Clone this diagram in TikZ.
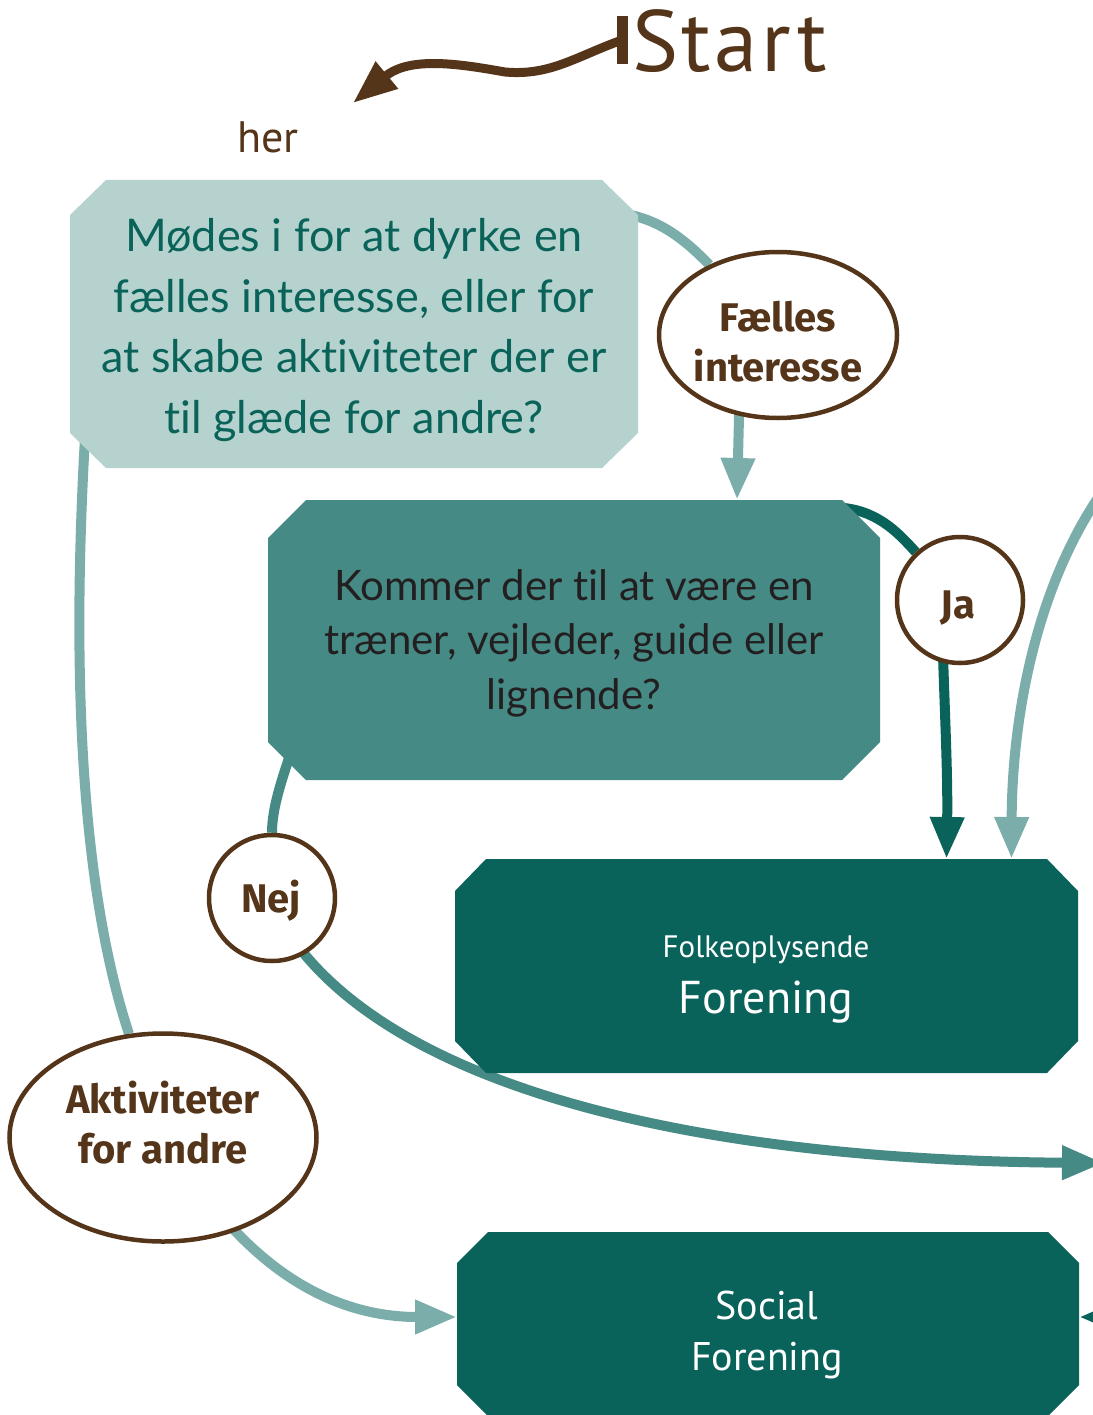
\documentclass[tikz,border=0pt]{standalone}
\usepackage{fontspec}
\setmainfont{Lato}[Ligatures=NoCommon]
\newfontfamily\myr{PT Sans}
\newfontfamily\myrs{PT Sans}[LetterSpace=4]
\newfontfamily\labf{Fira Sans}
\usetikzlibrary{arrows.meta,calc,shapes.geometric}
\pgfdeclarelayer{base}
\pgfdeclarelayer{bg}
\pgfdeclarelayer{mid}
\pgfsetlayers{base,bg,mid,main}
\definecolor{brn}{HTML}{55351A}
\definecolor{lbox}{HTML}{B5D2CF}
\definecolor{mbox}{HTML}{458A84}
\definecolor{dbox}{HTML}{0A635B}
\definecolor{lline}{HTML}{7BAEAA}
\definecolor{tteal}{HTML}{0A6359}
\definecolor{tdark}{HTML}{231F20}
\newcommand\octofill[4]{%
\begin{pgfonlayer}{mid}
\fill[#4] ($(#1.north west)+(#2,0)$) -- ($(#1.north east)+(-#2,0)$) -- ($(#1.north east)+(0,#3)$) -- ($(#1.south east)+(0,-#3)$) -- ($(#1.south east)+(-#2,0)$) -- ($(#1.south west)+(#2,0)$) -- ($(#1.south west)+(0,-#3)$) -- ($(#1.north west)+(0,#3)$) -- cycle;
\end{pgfonlayer}}
\begin{document}
\begin{tikzpicture}[x=1pt,y=-1pt,
  shp/.style={inner sep=0pt, outer sep=0pt},
  lab/.style={ellipse, draw=brn, line width=4.5pt, fill=white, inner sep=0pt},
  circlab/.style={circle, draw=brn, line width=4.5pt, fill=white, inner sep=0pt, minimum size=126pt},
  labt/.style={font=\labf\bfseries\fontsize{40}{50}\selectfont, text=brn, align=center, inner sep=0pt},
  conn/.style={line width=10pt},
  tip/.style={-{Triangle[width=32pt,length=42pt]}}]
\useasboundingbox (0,0) rectangle (1092,1415);
\begin{pgfonlayer}{base}
\fill[white] (0,0) rectangle (1092,1415);
\end{pgfonlayer}

% Start
\node[anchor=base west, inner sep=0pt, text=brn, font=\myrs\fontsize{87}{87}\selectfont] (start) at (632,72) {Start};
\node[anchor=base west, inner sep=0pt, text=brn, font=\myr\fontsize{44}{44}\selectfont] (her) at (237,153) {her};
\coordinate (sbar) at (622,40);
\coordinate (hertip) at (353,103);
\draw[brn, line width=11pt] ($(sbar)+(0,-24)$) -- ($(sbar)+(0,24)$);
\draw[brn, line width=9pt, -{Triangle[width=33pt,length=44pt]}] (sbar) .. controls (575,57) and (550,76) .. (505,72) .. controls (460,64) and (410,56) .. (hertip);

% boxes
\node[shp, minimum width=568pt, minimum height=288pt] (q1) at (354,324) {};
\octofill{q1}{36}{35}{lbox}
\node[font=\fontsize{45}{60.5}\selectfont, text=tteal, align=center, inner sep=0pt] (q1t) at (354,330) {Mødes i for at dyrke en\\fælles interesse, eller for\\at skabe aktiviteter der er\\til glæde for andre?};

\node[shp, minimum width=612pt, minimum height=280pt] (q2) at (574,640) {};
\octofill{q2}{38}{38}{mbox}
\node[font=\fontsize{42}{54.5}\selectfont, text=tdark, align=center, inner sep=0pt] (q2t) at (574,643) {Kommer der til at være en\\træner, vejleder, guide eller\\lignende?};

\node[shp, minimum width=623pt, minimum height=214pt] (f1) at (766.5,966) {};
\octofill{f1}{31}{32}{dbox}
\node[anchor=base, inner sep=0pt, text=white, font=\myr\fontsize{31}{31}\selectfont] (f1a) at (766,957) {Folkeoplysende};
\node[anchor=base, inner sep=0pt, text=white, font=\myr\fontsize{46}{46}\selectfont] (f1b) at (766,1013) {Forening};

\node[shp, minimum width=622pt, minimum height=184pt] (s1) at (768,1324) {};
\octofill{s1}{31}{31}{dbox}
\node[anchor=base, inner sep=0pt, text=white, font=\myr\fontsize{40}{40}\selectfont] (s1a) at (767,1319) {Social};
\node[anchor=base, inner sep=0pt, text=white, font=\myr\fontsize{40}{40}\selectfont] (s1b) at (767,1370) {Forening};

% labels
\node[lab, minimum width=238pt, minimum height=166pt] (fe) at (778,335) {};
\node[labt] (fet) at (778,342) {Fælles\\interesse};
\node[circlab] (ja) at (960,600) {};
\node[labt, anchor=base] (jat) at (958,618) {Ja};
\node[circlab] (nej) at (272,898) {};
\node[labt, anchor=base] (nejt) at (271,912) {Nej};
\node[lab, minimum width=307pt, minimum height=208pt] (akt) at (163,1137.5) {};
\node[labt] (aktt) at (163,1123) {Aktiviteter\\for andre};

\coordinate (offR1) at (1100,495);
\coordinate (offR2) at (1104,1163);
\coordinate (offR3) at (1130,1317);

\begin{pgfonlayer}{bg}
\draw[conn, lline] ($(q1.north east)+(-8,35)$) .. controls (665,222) and (690,245) .. (fe);
\draw[conn, lline, tip] ($(fe.center)+(-38,40)$) -- ($(q2.north)+(163,0)$);
\draw[conn, dbox] ($(q2.north east)+(-36,8)$) .. controls (880,512) and (900,535) .. (ja);
\draw[conn, dbox, tip] ($(ja.center)+(-18,20)$) .. controls (944,700) and (948,770) .. ($(f1.north)+(180,0)$);
\draw[conn, lline, tip] (offR1) .. controls (1035,590) and (1012,720) .. ($(f1.north)+(245,0)$);
\draw[conn, mbox] ($(q2.south west)+(22,-25)$) .. controls (280,785) and (272,810) .. (nej);
\draw[conn, mbox, tip] ($(nej.center)+(20,40)$) .. controls (400,1090) and (700,1160) .. (offR2);
\draw[conn, lline] ($(q1.south west)+(15,-30)$) .. controls (70,700) and (85,900) .. (akt);
\draw[conn, lline, tip] ($(akt.center)+(60,80)$) .. controls (290,1295) and (360,1317) .. ($(s1.west)+(0,-7)$);
\draw[conn, dbox, tip] (offR3) -- ($(s1.east)+(0,-7)$);
\end{pgfonlayer}
\end{tikzpicture}
\end{document}
